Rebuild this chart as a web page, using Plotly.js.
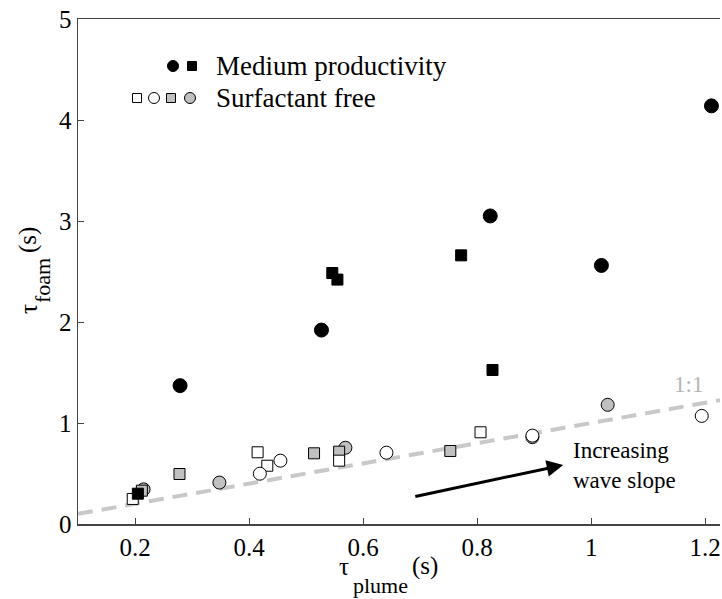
<!DOCTYPE html>
<html>
<head>
<meta charset="utf-8">
<script src="https://cdn.plot.ly/plotly-3.0.1.min.js"></script>
<style>html,body{margin:0;padding:0;background:#fff;}#chart{width:722px;height:599px;}</style>
</head>
<body>
<div id="chart"></div>
<script>
// Medium productivity
const medCircX = [0.279, 0.527, 0.823, 1.018, 1.211];
const medCircY = [1.37, 1.92, 3.05, 2.56, 4.14];
const medSqX = [0.205, 0.546, 0.555, 0.772, 0.827];
const medSqY = [0.30, 2.485, 2.42, 2.66, 1.525];
// Surfactant free
const openSqX = [0.196, 0.415, 0.432, 0.558, 0.806];
const openSqY = [0.248, 0.71, 0.577, 0.627, 0.908];
const openCircX = [0.419, 0.455, 0.641, 0.897, 1.194];
const openCircY = [0.498, 0.627, 0.706, 0.875, 1.07];
const graySqX = [0.212, 0.278, 0.514, 0.558, 0.753];
const graySqY = [0.33, 0.495, 0.70, 0.716, 0.723];
const grayCircX = [0.215, 0.348, 0.569, 0.897, 1.029];
const grayCircY = [0.343, 0.41, 0.755, 0.86, 1.18];
// 1:1 reference line
const oneToOne = [0.1, 1.226];
const xTicks = [0.2, 0.4, 0.6, 0.8, 1, 1.2];
const xTickText = ['0.2', '0.4', '0.6', '0.8', '1', '1.2'];
const yTicks = [0, 1, 2, 3, 4, 5];

const FONT = 'Liberation Serif';
const GRAY = '#c0c0c0';

function mk(x, y, sym, fill, size) {
  return {x: x, y: y, type: 'scatter', mode: 'markers', showlegend: false, hoverinfo: 'skip',
    marker: {symbol: sym, color: fill, size: size, line: {color: '#000', width: 1}}};
}

const traces = [
  {x: oneToOne, y: oneToOne, type: 'scatter', mode: 'lines', showlegend: false, hoverinfo: 'skip',
   line: {color: '#c8c8c8', width: 4, dash: '15px,9px'}},
  mk(grayCircX, grayCircY, 'circle', GRAY, 13),
  mk(graySqX, graySqY, 'square', GRAY, 11),
  mk(openSqX, openSqY, 'square', '#fff', 11),
  mk(openCircX, openCircY, 'circle', '#fff', 13),
  mk(medSqX, medSqY, 'square', '#000', 11),
  mk(medCircX, medCircY, 'circle', '#000', 14)
];

const L = 78, R = 2, T = 19, B = 75, W = 722, H = 599;
const pw = W - L - R, ph = H - T - B;
function px(x) { return (x - L) / pw; }
function py(y) { return 1 - (y - T) / ph; }
function legCircle(cx, cy, fill) {
  const r = 5.5;
  return {type: 'circle', xref: 'paper', yref: 'paper', x0: px(cx - r), x1: px(cx + r), y0: py(cy + r), y1: py(cy - r),
    fillcolor: fill, line: {color: '#000', width: 1}};
}
function legSquare(cx, cy, fill) {
  const r = 4.5;
  return {type: 'rect', xref: 'paper', yref: 'paper', x0: px(cx - r), x1: px(cx + r), y0: py(cy + r), y1: py(cy - r),
    fillcolor: fill, line: {color: '#000', width: 1}};
}

const shapes = [
  legCircle(173, 66, '#000'), legSquare(192, 66, '#000'),
  legSquare(137, 98, '#fff'), legCircle(154, 98, '#fff'), legSquare(171, 98, GRAY), legCircle(190, 98, GRAY)
];

function txt(xp, yp, text, size, xanchor, angle) {
  return {xref: 'paper', yref: 'paper', x: px(xp), y: py(yp), text: text, showarrow: false,
    xanchor: xanchor || 'center', yanchor: 'middle', textangle: angle || 0,
    font: {family: FONT, size: size, color: '#000'}};
}

const annotations = [
  txt(214, 66, 'Medium productivity', 27, 'left'),
  txt(214, 98, 'Surfactant free', 27, 'left'),
  // x-axis title
  txt(351, 566, 'τ', 25, 'right'),
  txt(351, 585, 'plume', 22, 'left'),
  txt(410, 566, '(s)', 25, 'left'),
  // y-axis title (rotated)
  txt(28, 309, 'τ', 25, 'center', -90),
  txt(42, 281, 'foam', 22, 'center', -90),
  txt(28, 240, '(s)', 25, 'center', -90),
  {x: 1.17, y: 1.38, xref: 'x', yref: 'y', text: '1:1', showarrow: false,
   font: {family: FONT, size: 23, color: '#b4b4b4'}},
  {x: 0.951, y: 0.584, ax: 0.689, ay: 0.27, xref: 'x', yref: 'y', axref: 'x', ayref: 'y', text: '',
   showarrow: true, arrowhead: 2, arrowsize: 1.1, arrowwidth: 3, arrowcolor: '#000', standoff: 0},
  {x: 0.965, y: 0.58, xref: 'x', yref: 'y', text: 'Increasing<br>wave slope', showarrow: false, align: 'left',
   xanchor: 'left', yanchor: 'middle', font: {family: FONT, size: 23, color: '#000'}}
];

const layout = {
  width: W, height: H,
  margin: {l: L, r: R, t: T, b: B},
  paper_bgcolor: '#fff', plot_bgcolor: '#fff',
  font: {family: FONT, size: 25, color: '#000'},
  showlegend: false,
  xaxis: {range: [0.1, 1.226], tickvals: xTicks, ticktext: xTickText, ticks: 'inside', ticklen: 6, tickcolor: '#444',
    showline: true, linecolor: '#444', linewidth: 1.5, mirror: true, showgrid: false, zeroline: false,
    ticklabeloverflow: 'allow', automargin: false,
    tickfont: {family: FONT, size: 25, color: '#000'}},
  yaxis: {range: [0, 5], tickvals: yTicks, ticks: 'inside', ticklen: 6, tickcolor: '#444',
    showline: true, linecolor: '#444', linewidth: 1.5, showgrid: false, zeroline: false,
    automargin: false,
    tickfont: {family: FONT, size: 25, color: '#000'}},
  shapes: shapes,
  annotations: annotations
};

Plotly.newPlot('chart', traces, layout, {displayModeBar: false, staticPlot: true});
</script>
</body>
</html>
